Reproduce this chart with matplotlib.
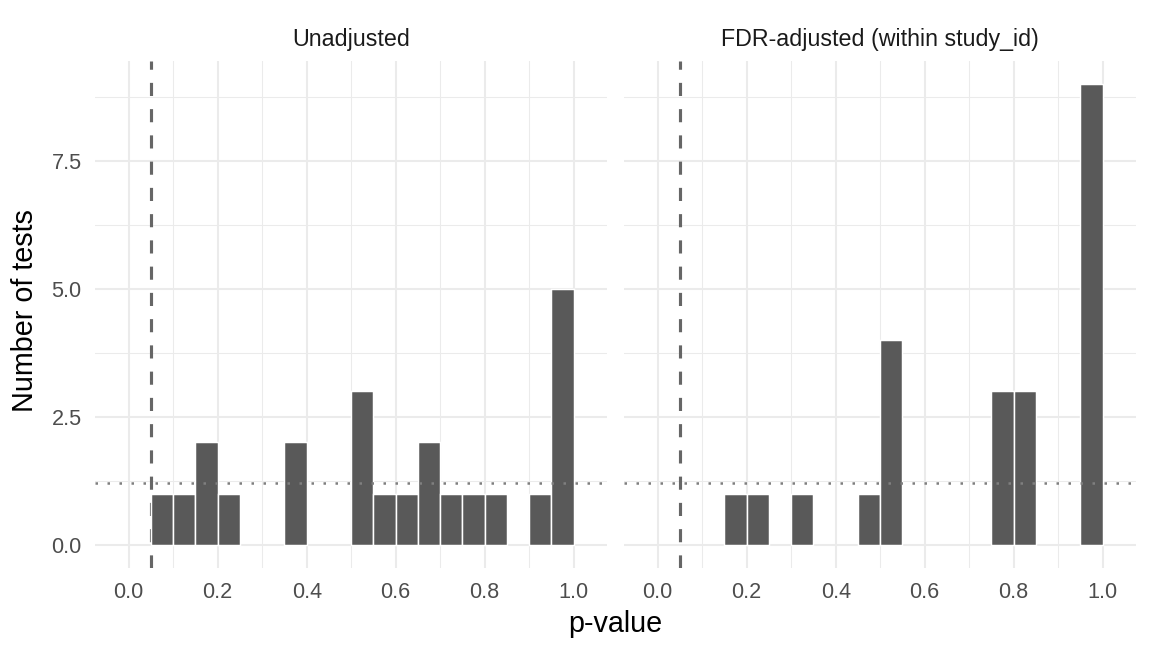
import matplotlib
matplotlib.use("Agg")
import matplotlib.pyplot as plt
import numpy as np

# -------------------------------------------------------------------------------------------------
# Data: histogram bins (lower edge, width 0.05) and counts
# -------------------------------------------------------------------------------------------------
bin_width = 0.05
unadj_edges = [0.05, 0.10, 0.15, 0.20, 0.35, 0.50, 0.55, 0.60, 0.65, 0.70, 0.75, 0.80, 0.90, 0.95]
unadj_counts = [1, 1, 2, 1, 2, 3, 1, 1, 2, 1, 1, 1, 1, 5]
fdr_edges = [0.15, 0.20, 0.30, 0.45, 0.50, 0.75, 0.80, 0.95]
fdr_counts = [1, 1, 1, 1, 4, 3, 3, 9]

panel_titles = ["Unadjusted", "FDR-adjusted (within study_id)"]
alpha_line = 0.05
expected_line = 1.21

x_ticks = [0.0, 0.2, 0.4, 0.6, 0.8, 1.0]
x_minor = [0.1, 0.3, 0.5, 0.7, 0.9]
y_ticks = [0.0, 2.5, 5.0, 7.5]
y_minor = [1.25, 3.75, 6.25, 8.75]

plt.rcParams["font.family"] = ["Liberation Sans", "DejaVu Sans"]

W, H = 1152, 652
DPI = 150
fig = plt.figure(figsize=(W / DPI, H / DPI), dpi=DPI)

# panel positions in pixels (left, right), shared top / bottom
panels_px = [(95.3, 607.1), (624.3, 1136.1)]
top_px, bot_px = 60.8, 568.0

def draw_panel(ax, edges, counts, show_y):
    ax.set_xlim(-0.075, 1.075)
    ax.set_ylim(-0.45, 9.45)
    for s in ax.spines.values():
        s.set_visible(False)
    ax.set_facecolor("white")
    # grid (theme_minimal look)
    for v in x_ticks:
        ax.axvline(v, color="#EBEBEB", lw=1.0, zorder=0)
    for v in x_minor:
        ax.axvline(v, color="#EBEBEB", lw=0.5, zorder=0)
    for v in y_ticks:
        ax.axhline(v, color="#EBEBEB", lw=1.0, zorder=0)
    for v in y_minor:
        ax.axhline(v, color="#EBEBEB", lw=0.5, zorder=0)
    ax.axvline(alpha_line, color="#666666", lw=1.5, dashes=(4.2, 4.2), zorder=1)
    ax.bar(edges, counts, width=bin_width, align="edge", color="#595959",
           edgecolor="white", linewidth=0.7, zorder=2)
    ax.axhline(expected_line, color="#7F7F7F", lw=1.2, dashes=(1.0, 3.8), zorder=3)
    ax.set_xticks(x_ticks)
    ax.set_xticklabels(["%.1f" % v for v in x_ticks])
    ax.set_yticks(y_ticks)
    if show_y:
        ax.set_yticklabels(["%.1f" % v for v in y_ticks])
    else:
        ax.set_yticklabels([])
    ax.tick_params(length=0, labelsize=10.4, labelcolor="#4D4D4D", pad=6.5)

for i, (edges, counts) in enumerate([(unadj_edges, unadj_counts), (fdr_edges, fdr_counts)]):
    l, r = panels_px[i]
    ax = fig.add_axes([l / W, 1 - bot_px / H, (r - l) / W, (bot_px - top_px) / H])
    draw_panel(ax, edges, counts, i == 0)
    fig.text((l + r) / 2 / W, 1 - 45.7 / H, panel_titles[i], fontsize=11.2,
             color="#1A1A1A", ha="center", va="baseline")

fig.text(615.7 / W, 1 - 632 / H, "p-value", fontsize=13.8, color="black",
         ha="center", va="baseline")
fig.text(25 / W, 1 - 311 / H, "Number of tests", fontsize=13.8, color="black",
         ha="center", va="center", rotation=90)

fig.savefig("out.png", dpi=DPI, facecolor="white")
